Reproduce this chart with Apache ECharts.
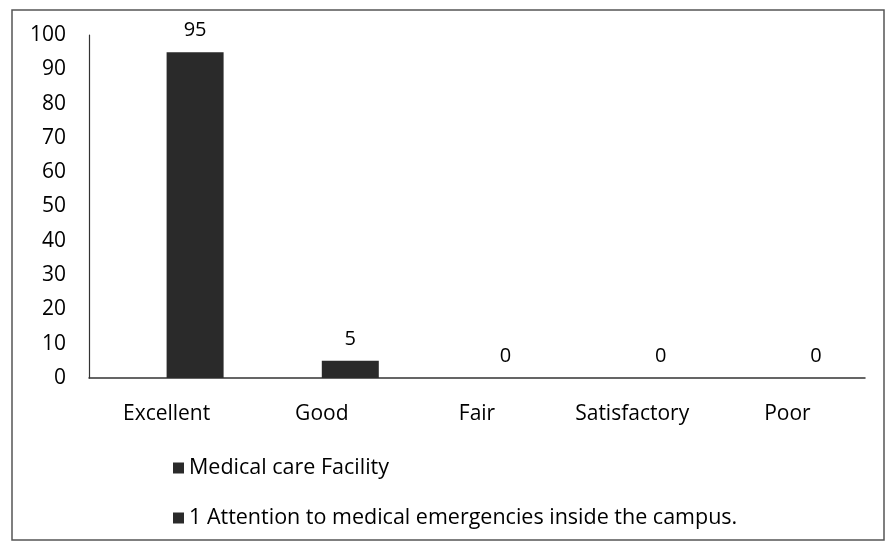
<!DOCTYPE html>
<html>
<head>
<meta charset="utf-8">
<script src="https://cdn.jsdelivr.net/npm/echarts@6/dist/echarts.min.js"></script>
<style>
  html, body { margin: 0; padding: 0; background: #ffffff; }
  #chart { width: 887px; height: 548px; }
</style>
</head>
<body>
<div id="chart"></div>
<script>
  const categories = ['Excellent', 'Good', 'Fair', 'Satisfactory', 'Poor'];
  const seriesNames = ['Medical care Facility', '1 Attention to medical emergencies inside the campus.'];
  // first series has no bars drawn in the original
  const medicalCare = [null, null, null, null, null];
  const attention = [95, 5, 0, 0, 0];

  const font = '"Open Sans", "Liberation Sans", sans-serif';
  const ink = '#2a2a2a';

  const chart = echarts.init(document.getElementById('chart'));
  chart.setOption({
    animation: false,
    backgroundColor: '#ffffff',
    textStyle: { fontFamily: font },
    graphic: [{
      type: 'rect',
      shape: { x: 12, y: 10, width: 872, height: 530 },
      style: { fill: 'none', stroke: '#555555', lineWidth: 1.5 },
      silent: true
    }],
    legend: {
      orient: 'vertical',
      left: 168,
      top: 452,
      itemWidth: 11,
      itemHeight: 11,
      itemGap: 28,
      icon: 'rect',
      textStyle: { fontSize: 21.5, color: '#000000', fontFamily: font },
      data: seriesNames
    },
    grid: {
      left: 89,
      right: 22,
      top: 35,
      bottom: 170
    },
    xAxis: {
      type: 'category',
      data: categories,
      axisLine: { lineStyle: { color: '#333333', width: 1.5 } },
      axisTick: { show: false },
      axisLabel: { fontSize: 21, color: '#000000', margin: 26, fontFamily: font }
    },
    yAxis: {
      type: 'value',
      min: 0,
      max: 100,
      interval: 10,
      axisLine: { show: true, lineStyle: { color: '#333333', width: 1.2 } },
      axisTick: { show: false },
      splitLine: { show: false },
      axisLabel: { fontSize: 21, color: '#000000', margin: 23, fontFamily: font }
    },
    series: [
      {
        name: seriesNames[0],
        type: 'bar',
        data: medicalCare,
        barWidth: 57,
        barGap: '0%',
        itemStyle: { color: ink }
      },
      {
        name: seriesNames[1],
        type: 'bar',
        data: attention,
        barWidth: 57,
        barGap: '0%',
        itemStyle: { color: ink },
        label: {
          show: true,
          position: 'top',
          distance: 12,
          fontSize: 20,
          color: '#000000',
          fontFamily: font
        }
      }
    ]
  });
</script>
</body>
</html>
